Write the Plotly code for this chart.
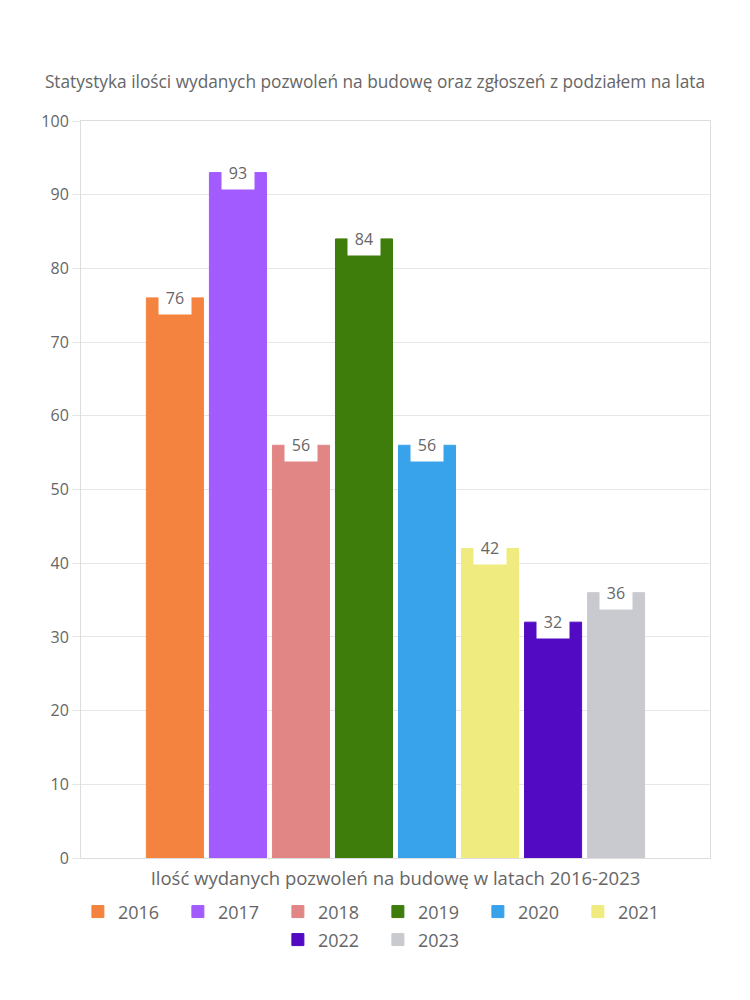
import plotly.graph_objects as go

years = ["2016", "2017", "2018", "2019", "2020", "2021", "2022", "2023"]
values = [76, 93, 56, 84, 56, 42, 32, 36]
colors = ["#F4833F", "#A25BFE", "#E28585", "#3E7C0C", "#38A3EB", "#F0EB7E", "#520AC2", "#C9CACF"]
legend_group = ["legend", "legend", "legend", "legend", "legend", "legend", "legend2", "legend2"]
title_text = "Statystyka ilości wydanych pozwoleń na budowę oraz zgłoszeń z podziałem na lata"
x_title = "Ilość wydanych pozwoleń na budowę w latach 2016-2023"
y_ticks = list(range(0, 101, 10))

FONT = "Open Sans"
GREY = "#666666"

fig = go.Figure()
for i, (yr, v, c, lg) in enumerate(zip(years, values, colors, legend_group)):
    fig.add_trace(go.Bar(
        x=[yr], y=[v], name=yr, legend=lg,
        marker=dict(color=c, line=dict(color=c, width=1)),
        hoverinfo="skip",
    ))
    fig.add_annotation(
        x=i, y=v, xref="x", yref="y", text=str(v),
        showarrow=False, yanchor="middle", xanchor="center",
        bgcolor="white", borderpad=5, width=22,
        font=dict(family=FONT, size=16, color=GREY),
    )

legend_style = dict(orientation="h", x=0.472, xanchor="center", yanchor="top",
                    font=dict(family=FONT, size=18, color=GREY),
                    entrywidth=55, traceorder="normal", bgcolor="rgba(0,0,0,0)")

fig.update_layout(
    width=750, height=1000,
    paper_bgcolor="white", plot_bgcolor="white",
    margin=dict(l=81, r=40, t=121, b=142),
    barmode="overlay",
    bargap=0.095,
    font=dict(family=FONT, color=GREY, size=16),
    title=dict(text=title_text, x=0.5, xanchor="center", y=0.918, yanchor="middle",
               font=dict(family=FONT, size=17.3, color=GREY)),
    showlegend=True,
    legend=dict(y=-0.048, **legend_style),
    legend2=dict(y=-0.086, **legend_style),
    xaxis=dict(
        type="category", categoryorder="array", categoryarray=years,
        range=[-1.49, 8.49], showticklabels=False, ticks="",
        showline=True, linecolor="#dddddd", mirror=True, showgrid=False,
        title=dict(text=x_title, standoff=14, font=dict(family=FONT, size=18.5, color=GREY)),
        fixedrange=True,
    ),
    yaxis=dict(
        range=[0, 100], tickvals=y_ticks, showgrid=True, gridcolor="#e6e6e6",
        showline=True, linecolor="#dddddd", mirror=True, zeroline=False,
        ticks="outside", ticklen=8, tickcolor="#e6e6e6",
        tickfont=dict(family=FONT, size=16, color=GREY),
    ),
)

fig.write_html("out.html")
